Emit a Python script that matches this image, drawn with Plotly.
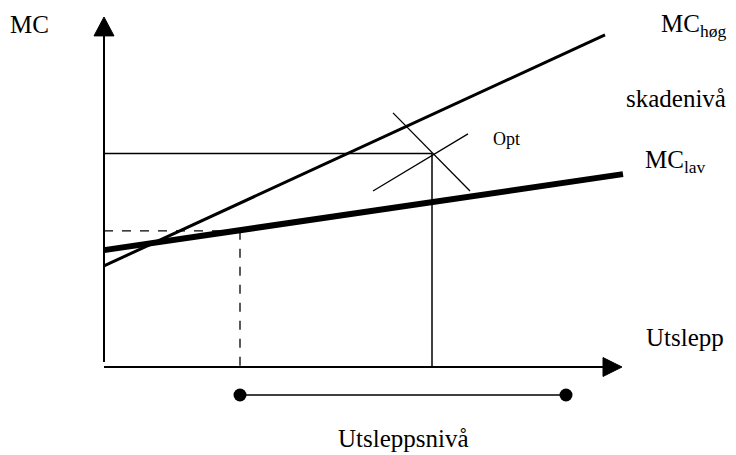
import plotly.graph_objects as go

# ---- data (abstract units: emissions on x, marginal cost on y) ----
mc_hog_x = [0.0, 100.2]
mc_hog_y = [28.9, 94.9]
mc_lav_x = [0.0, 103.8]
mc_lav_y = [33.4, 55.1]

opt_x = 65.6          # optimal emission level
opt_y = 61.0          # optimal MC level
low_x = 27.2          # emission level with low damage
low_y = 38.9          # MC level with low damage

cross_a_x = [57.8, 73.2]
cross_a_y = [72.6, 50.3]
cross_b_x = [53.8, 72.8]
cross_b_y = [50.3, 66.6]

range_x = [27.2, 92.4]   # "Utsleppsnivå" interval
range_y = -8.0

yaxis_top = 94.6
yaxis_tip = 100.0
xaxis_end = 99.8
xaxis_tip = 103.6

label_texts = ["MC", "MC<sub>høg</sub>", "skadenivå", "MC<sub>lav</sub>", "Opt", "Utslepp", "Utsleppsnivå"]
label_x = [-19.2, 111.0, 104.0, 107.8, 77.4, 108.0, 46.4]
label_y = [98.0, 97.7, 76.6, 58.6, 65.1, 8.3, -20.3]
label_size = [25, 25, 25, 25, 18, 25, 25]

FONT = "Liberation Serif, Times New Roman, serif"

fig = go.Figure()

def line(xs, ys, w, dash="solid"):
    fig.add_trace(go.Scatter(x=xs, y=ys, mode="lines",
                             line=dict(color="black", width=w, dash=dash),
                             hoverinfo="skip", showlegend=False))

# axes
line([0, 0], [1.4, yaxis_top], 2)
line([0, xaxis_end], [0, 0], 2)
fig.add_trace(go.Scatter(x=[0, -2.0, 2.0, 0], y=[yaxis_tip, yaxis_top, yaxis_top, yaxis_tip],
                         mode="lines", fill="toself", fillcolor="black",
                         line=dict(color="black", width=1), hoverinfo="skip", showlegend=False))
fig.add_trace(go.Scatter(x=[xaxis_tip, xaxis_end, xaxis_end, xaxis_tip], y=[0, 2.7, -2.7, 0],
                         mode="lines", fill="toself", fillcolor="black",
                         line=dict(color="black", width=1), hoverinfo="skip", showlegend=False))

# optimum guide lines
line([0, opt_x], [opt_y, opt_y], 1.5)
line([opt_x, opt_x], [opt_y, 0], 1.5)
# low-damage dashed guides
line([0, low_x], [low_y, low_y], 1.3, "dash")
line([low_x, low_x], [low_y, 0], 1.3, "dash")

# MC curves
line(mc_hog_x, mc_hog_y, 3)
line(mc_lav_x, mc_lav_y, 6)

# cross at optimum
line(cross_a_x, cross_a_y, 1.3)
line(cross_b_x, cross_b_y, 1.3)

# emission range segment
fig.add_trace(go.Scatter(x=range_x, y=[range_y, range_y], mode="lines+markers",
                         line=dict(color="black", width=1.5),
                         marker=dict(color="black", size=13),
                         hoverinfo="skip", showlegend=False))

for t, x, y, s in zip(label_texts, label_x, label_y, label_size):
    fig.add_annotation(x=x, y=y, text=t, showarrow=False, xanchor="left", yanchor="middle",
                       font=dict(family=FONT, size=s, color="black"))

# page body has an 8px margin, so the figure is 8px smaller than the window
fig.update_layout(
    width=728, height=447,
    margin=dict(l=0, r=0, t=0, b=0),
    paper_bgcolor="white", plot_bgcolor="white",
    xaxis=dict(range=[-19.2, 126.4], visible=False, fixedrange=True),
    yaxis=dict(range=[-25.14, 102.57], visible=False, fixedrange=True),
    showlegend=False,
)

fig.write_html("out.html")
